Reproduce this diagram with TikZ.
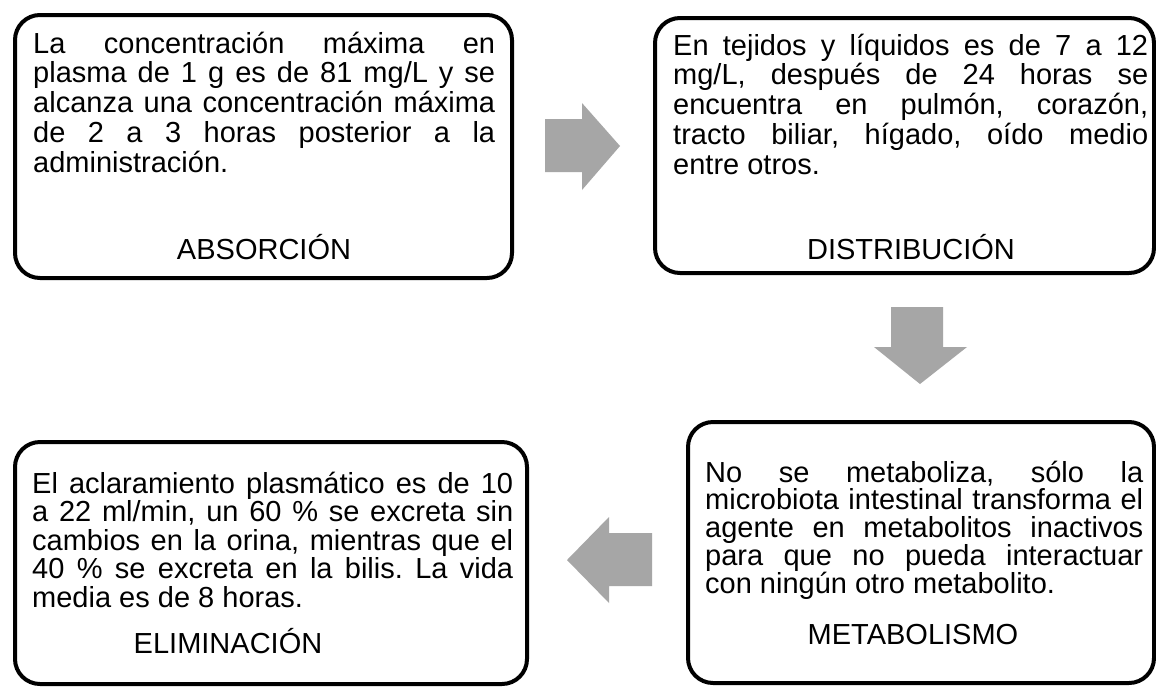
\documentclass[tikz,border=0pt]{standalone}
\usepackage{fontspec}
\setmainfont{Liberation Sans}
\frenchspacing
\definecolor{arrowgray}{HTML}{A6A6A6}
\newcommand\jline[2]{\hbox to #1{#2}}
\tikzset{
  procbox/.style={draw=black, line width=4pt, rounded corners=25pt, inner sep=0pt},
  bodytext/.style={anchor=base west, inner sep=0pt, font=\fontsize{29}{29.7}\selectfont},
  titletext/.style={anchor=base, inner sep=0pt, font=\fontsize{29}{29.7}\selectfont},
  blockarrow/.style={fill=arrowgray, draw=none},
}
\begin{document}
\begin{tikzpicture}[x=1pt, y=-1pt]
\useasboundingbox (0,0) rectangle (1156,686);
\fill[white] (0,0) rectangle (1156,686);

% boxes
\node[procbox, minimum width=497pt, minimum height=263pt] (b1) at (263.5,146.5) {};
\node[procbox, minimum width=499pt, minimum height=255pt] (b2) at (904.5,145.5) {};
\node[procbox, minimum width=512pt, minimum height=242pt] (b3) at (271,563) {};
\node[procbox, minimum width=466pt, minimum height=261pt] (b4) at (921,552.5) {};

% texts
\node[bodytext] (t1) at (33,53) {\vtop{\frenchspacing\baselineskip=29.75pt\lineskiplimit=-100pt
  \jline{462pt}{La concentración máxima en}
  \jline{462pt}{plasma de 1 g es de 81 mg/L y se}
  \jline{462pt}{alcanza una concentración máxima}
  \jline{462pt}{de 2 a 3 horas posterior a la}
  \hbox{administración.}}};
\node[titletext] (h1) at (264,259) {ABSORCIÓN};

\node[bodytext] (t2) at (673,55) {\vtop{\frenchspacing\baselineskip=29.75pt\lineskiplimit=-100pt
  \jline{475pt}{En tejidos y líquidos es de 7 a 12}
  \jline{475pt}{mg/L, después de 24 horas se}
  \jline{475pt}{encuentra en pulmón, corazón,}
  \jline{475pt}{tracto biliar, hígado, oído medio}
  \hbox{entre otros.}}};
\node[titletext] (h2) at (911,259) {DISTRIBUCIÓN};

\node[bodytext] (t3) at (32,493) {\vtop{\frenchspacing\baselineskip=28.5pt\lineskiplimit=-100pt
  \jline{481pt}{El aclaramiento plasmático es de 10}
  \jline{481pt}{a 22 ml/min, un 60 \% se excreta sin}
  \jline{481pt}{cambios en la orina, mientras que el}
  \jline{481pt}{40 \% se excreta en la bilis. La vida}
  \hbox{media es de 8 horas.}}};
\node[titletext] (h3) at (228,653) {ELIMINACIÓN};

\node[bodytext] (t4) at (705,482) {\vtop{\frenchspacing\baselineskip=27.75pt\lineskiplimit=-100pt
  \jline{438pt}{No se metaboliza, sólo la}
  \jline{438pt}{microbiota intestinal transforma el}
  \jline{438pt}{agente en metabolitos inactivos}
  \jline{438pt}{para que no pueda interactuar}
  \hbox{con ningún otro metabolito.}}};
\node[titletext] (h4) at (913,644) {METABOLISMO};

% block arrows
\fill[blockarrow] (545,119) -- (582,119) -- (582,103) -- (620,146) -- (582,190) -- (582,172) -- (545,172) -- cycle;
\fill[blockarrow] (891,307) -- (943,307) -- (943,347) -- (967,347) -- (920,384) -- (874,347) -- (891,347) -- cycle;
\fill[blockarrow] (652,533) -- (609,533) -- (609,517) -- (567,560) -- (609,603) -- (609,586) -- (652,586) -- cycle;
\end{tikzpicture}
\end{document}
